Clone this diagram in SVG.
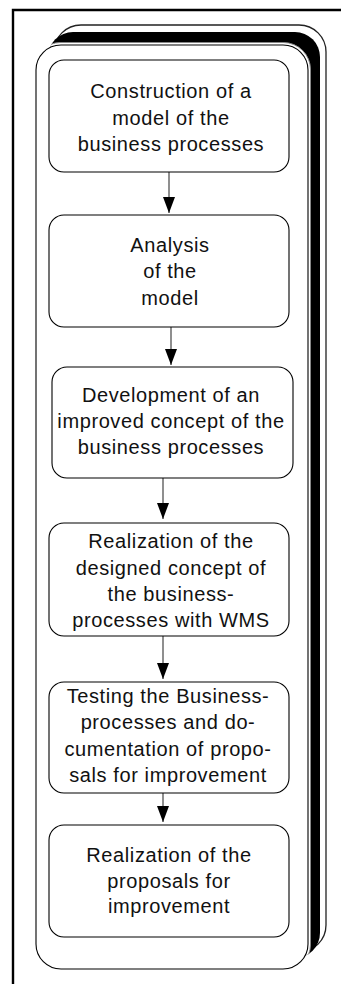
<svg xmlns="http://www.w3.org/2000/svg" width="341" height="984" viewBox="0 0 341 984">
<style>
.node rect{fill:#fff;stroke:#000;stroke-width:1.1}
.node text{font-family:"Liberation Sans",Arial,sans-serif;font-size:20px;letter-spacing:0.6px;fill:#111;text-anchor:middle}
.conn line{stroke:#333;stroke-width:1.1}
</style>
<defs>
<marker id="ah" markerWidth="16" markerHeight="12" refX="16" refY="6" orient="auto" markerUnits="userSpaceOnUse" viewBox="0 0 16 12">
<path d="M0,0 L16,6 L0,12 Z" fill="#000"/>
</marker>
<clipPath id="blk"><rect x="48" y="32" width="272" height="926" rx="25"/></clipPath>
</defs>
<rect x="0" y="0" width="341" height="984" fill="#fff"/>
<g id="frame">
<path d="M13,984 V10 H341" fill="none" stroke="#000" stroke-width="2.4"/>
</g>
<g id="container">
<rect x="54" y="25" width="272" height="927" rx="27" fill="#fff" stroke="#222" stroke-width="1.3"/>
<rect x="48" y="32" width="272" height="926" rx="25" fill="#000"/>
<g clip-path="url(#blk)">
<rect x="33.5" y="42.5" width="277" height="929" rx="27" fill="#fff" stroke="#888" stroke-width="1"/>
</g>
<rect x="36" y="45" width="272" height="924" rx="25" fill="#fff" stroke="#000" stroke-width="1.1"/>
</g>
<g class="conn" id="connectors">
<line x1="169" y1="172" x2="169" y2="213" marker-end="url(#ah)"/>
<line x1="171" y1="327" x2="171" y2="365" marker-end="url(#ah)"/>
<line x1="163" y1="478" x2="163" y2="519" marker-end="url(#ah)"/>
<line x1="163" y1="636" x2="163" y2="679" marker-end="url(#ah)"/>
<line x1="163" y1="793" x2="163" y2="822" marker-end="url(#ah)"/>
</g>
<g class="node" id="n1">
<rect x="49" y="60" width="240" height="112" rx="15"/>
<text x="171" y="98">Construction of a</text>
<text x="171" y="125">model of the</text>
<text x="171" y="151">business processes</text>
</g>
<g class="node" id="n2">
<rect x="49" y="215" width="240" height="112" rx="15"/>
<text x="170" y="252">Analysis</text>
<text x="170" y="278">of the</text>
<text x="170" y="305">model</text>
</g>
<g class="node" id="n3">
<rect x="52" y="367" width="241" height="111" rx="15"/>
<text x="171" y="402">Development of an</text>
<text x="171" y="428">improved concept of the</text>
<text x="171" y="454">business processes</text>
</g>
<g class="node" id="n4">
<rect x="49" y="523" width="240" height="113" rx="15"/>
<text x="171" y="548">Realization of the</text>
<text x="171" y="575">designed concept of</text>
<text x="171" y="601">the business-</text>
<text x="171" y="627">processes with WMS</text>
</g>
<g class="node" id="n5">
<rect x="49" y="682" width="240" height="111" rx="15"/>
<text x="168" y="703">Testing the Business-</text>
<text x="168" y="729">processes and do-</text>
<text x="168" y="756">cumentation of propo-</text>
<text x="168" y="782">sals for improvement</text>
</g>
<g class="node" id="n6">
<rect x="49" y="825" width="240" height="112" rx="15"/>
<text x="169" y="862">Realization of the</text>
<text x="169" y="888">proposals for</text>
<text x="169" y="913">improvement</text>
</g>
</svg>
